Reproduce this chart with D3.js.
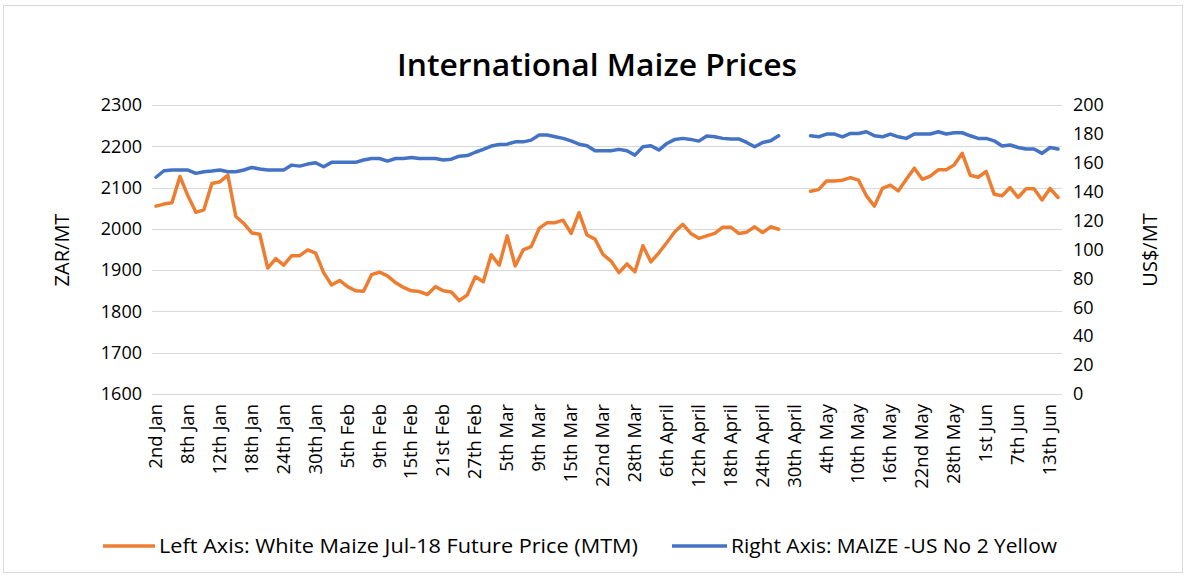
<!DOCTYPE html>
<html lang="en">
<head>
    <meta charset="UTF-8">
    <title>International Maize Prices</title>
    <script src="https://d3js.org/d3.v7.min.js"></script>
    <style>
        body {
            margin: 0;
            background: white;
            font-family: "Open Sans", "Noto Sans", Arial, sans-serif;
        }
        svg text { fill: #000; }
    </style>
</head>
<body>
    <svg id="chart" width="1187" height="578"></svg>

    <script>
    // trading days, 2 Jan - 14 Jun 2018
    const categories = [
        "2 Jan","3 Jan","4 Jan","5 Jan","8 Jan","9 Jan","10 Jan","11 Jan","12 Jan","15 Jan",
        "16 Jan","17 Jan","18 Jan","19 Jan","22 Jan","23 Jan","24 Jan","25 Jan","26 Jan","29 Jan",
        "30 Jan","31 Jan","1 Feb","2 Feb","5 Feb","6 Feb","7 Feb","8 Feb","9 Feb","12 Feb",
        "13 Feb","14 Feb","15 Feb","16 Feb","19 Feb","20 Feb","21 Feb","22 Feb","23 Feb","26 Feb",
        "27 Feb","28 Feb","1 Mar","2 Mar","5 Mar","6 Mar","7 Mar","8 Mar","9 Mar","12 Mar",
        "13 Mar","14 Mar","15 Mar","16 Mar","19 Mar","20 Mar","22 Mar","23 Mar","26 Mar","27 Mar",
        "28 Mar","3 Apr","4 Apr","5 Apr","6 Apr","9 Apr","10 Apr","11 Apr","12 Apr","13 Apr",
        "16 Apr","17 Apr","18 Apr","19 Apr","20 Apr","23 Apr","24 Apr","25 Apr","26 Apr","27 Apr",
        "30 Apr","1 May","2 May","3 May","4 May","7 May","8 May","9 May","10 May","11 May",
        "14 May","15 May","16 May","17 May","18 May","21 May","22 May","23 May","24 May","25 May",
        "28 May","29 May","30 May","31 May","1 Jun","4 Jun","5 Jun","6 Jun","7 Jun","8 Jun",
        "11 Jun","12 Jun","13 Jun","14 Jun"
    ];

    // every 4th category carries a label
    const tickLabels = [
        "2nd Jan","8th Jan","12th Jan","18th Jan","24th  Jan","30th  Jan","5th Feb","9th Feb",
        "15th Feb","21st Feb","27th Feb","5th Mar","9th Mar","15th Mar","22nd Mar","28th Mar",
        "6th April","12th April","18th April","24th April","30th April","4th May","10th May",
        "16th May","22nd May","28th May","1st Jun","7th Jun","13th Jun"
    ];

    // White Maize Jul-18 future price, ZAR/MT (left axis)
    const whiteMaize = [
        2055, 2060, 2063, 2127, 2080, 2040, 2046, 2110, 2114, 2130,
        2030, 2013, 1990, 1987, 1905, 1928, 1912, 1935, 1935, 1949,
        1941, 1894, 1864, 1875, 1860, 1850, 1849, 1889, 1895, 1886,
        1870, 1858, 1850, 1848, 1841, 1860, 1850, 1847, 1826, 1840,
        1884, 1872, 1937, 1912, 1983, 1910, 1949, 1957, 2001, 2015,
        2015, 2021, 1989, 2039, 1985, 1975, 1938, 1922, 1894, 1915,
        1896, 1959, 1920, 1942, 1967, 1993, 2011, 1989, 1977, 1983,
        1989, 2004, 2004, 1989, 1992, 2005, 1991, 2005, 1999, null,
        null, null, 2091, 2095, 2116, 2116, 2118, 2124, 2118, 2080,
        2055, 2098, 2106, 2092, 2120, 2147, 2120, 2128, 2143, 2143,
        2155, 2183, 2130, 2125, 2139, 2084, 2080, 2100, 2076, 2097,
        2097, 2070, 2098, 2076
    ];

    // MAIZE - US No 2 Yellow, US$/MT (right axis)
    const usYellow = [
        150, 154.5, 155, 155, 155, 152.7, 153.8, 154.3, 155, 153.8,
        153.8, 155, 156.8, 155.7, 155, 155, 155, 158.4, 157.7, 159.1,
        160, 157.3, 160.3, 160.3, 160.3, 160.3, 161.9, 163, 163, 161.2,
        163, 163, 163.7, 163, 163, 163, 161.9, 162.5, 164.6, 165,
        167.3, 169.3, 171.6, 172.7, 172.9, 174.5, 174.5, 175.7, 179.2, 179.2,
        178, 176.9, 175.2, 172.9, 171.8, 168.3, 168.3, 168.3, 169.3, 168.3,
        165.3, 171.1, 171.8, 168.8, 173.4, 176.2, 176.9, 176.2, 175, 178.5,
        178, 176.9, 176.5, 176.5, 174.1, 171.1, 174.1, 175.2, 178.7, null,
        null, null, 178.7, 178, 179.9, 179.9, 178, 180.3, 180.3, 181.5,
        178.7, 178, 179.9, 178, 176.9, 179.9, 179.9, 179.9, 181.5, 179.9,
        180.8, 180.8, 178.7, 176.9, 176.9, 175.2, 171.6, 172.3, 170.6, 169.5,
        169.5, 166.5, 170.6, 169.5
    ];

    const leftTicks = [1600, 1700, 1800, 1900, 2000, 2100, 2200, 2300];
    const rightTicks = [0, 20, 40, 60, 80, 100, 120, 140, 160, 180, 200];

    const seriesNames = [
        "Left Axis: White Maize Jul-18 Future Price (MTM)",
        "Right Axis: MAIZE -US No 2 Yellow"
    ];
    const colors = ["#ED7D31", "#4472C4"];

    const svg = d3.select("#chart");
    const plot = { left: 152, right: 1062, top: 105, bottom: 394 };

    // chart frame
    svg.append("rect")
        .attr("x", 3.5).attr("y", 5.5)
        .attr("width", 1179).attr("height", 567)
        .attr("fill", "white")
        .attr("stroke", "#D9D9D9");

    const x = d3.scalePoint().domain(categories)
        .range([plot.left, plot.right]).padding(0.5);
    const yLeft = d3.scaleLinear().domain([1600, 2300]).range([plot.bottom, plot.top]);
    const yRight = d3.scaleLinear().domain([0, 200]).range([plot.bottom, plot.top]);

    // gridlines
    svg.append("g")
        .selectAll("line")
        .data(leftTicks)
        .enter().append("line")
        .attr("x1", plot.left).attr("x2", plot.right)
        .attr("y1", d => Math.round(yLeft(d)) + 0.5)
        .attr("y2", d => Math.round(yLeft(d)) + 0.5)
        .attr("stroke", "#D9D9D9")
        .attr("stroke-width", 1);

    // left axis
    const leftAxis = svg.append("g")
        .attr("transform", `translate(${plot.left - 10}, 0)`)
        .call(d3.axisLeft(yLeft).tickValues(leftTicks).tickFormat(d3.format("d"))
            .tickSize(0).tickPadding(0));
    leftAxis.select(".domain").remove();
    leftAxis.selectAll("text")
        .style("font-family", "Open Sans")
        .style("font-size", "18px");

    // right axis
    const rightAxis = svg.append("g")
        .attr("transform", `translate(${plot.right + 11}, 0)`)
        .call(d3.axisRight(yRight).tickValues(rightTicks).tickFormat(d3.format("d"))
            .tickSize(0).tickPadding(0));
    rightAxis.select(".domain").remove();
    rightAxis.selectAll("text")
        .style("font-family", "Open Sans")
        .style("font-size", "18px");

    // category labels, every 4th day
    const labelled = categories.filter((d, i) => i % 4 === 0);
    svg.append("g")
        .selectAll("text")
        .data(labelled)
        .enter().append("text")
        .attr("transform", d => `translate(${x(d) + 6}, ${plot.bottom + 10}) rotate(-90)`)
        .attr("text-anchor", "end")
        .style("font-size", "18.5px")
        .text((d, i) => tickLabels[i]);

    // lines
    const lineLeft = d3.line()
        .defined(d => d != null)
        .x((d, i) => x(categories[i]))
        .y(d => yLeft(d));
    const lineRight = d3.line()
        .defined(d => d != null)
        .x((d, i) => x(categories[i]))
        .y(d => yRight(d));

    svg.append("path")
        .datum(whiteMaize)
        .attr("fill", "none")
        .attr("stroke", colors[0])
        .attr("stroke-width", 3.5)
        .attr("stroke-linejoin", "round")
        .attr("stroke-linecap", "round")
        .attr("d", lineLeft);

    svg.append("path")
        .datum(usYellow)
        .attr("fill", "none")
        .attr("stroke", colors[1])
        .attr("stroke-width", 3.5)
        .attr("stroke-linejoin", "round")
        .attr("stroke-linecap", "round")
        .attr("d", lineRight);

    // title
    svg.append("text")
        .attr("x", 597).attr("y", 76)
        .attr("text-anchor", "middle")
        .style("font-size", "31px")
        .style("font-weight", "600")
        .attr("textLength", 400)
        .attr("lengthAdjust", "spacingAndGlyphs")
        .text("International Maize Prices");

    // axis titles
    svg.append("text")
        .attr("transform", "translate(69, 250) rotate(-90)")
        .attr("text-anchor", "middle")
        .style("font-size", "20px")
        .text("ZAR/MT");
    svg.append("text")
        .attr("transform", "translate(1157, 250) rotate(-90)")
        .attr("text-anchor", "middle")
        .style("font-size", "20px")
        .text("US$/MT");

    // legend
    const legendX = [103, 672];
    const legendLen = [52, 55];
    const legendTextLen = [479, 326];
    const legend = svg.append("g");
    legend.selectAll("line")
        .data(seriesNames)
        .enter().append("line")
        .attr("x1", (d, i) => legendX[i])
        .attr("x2", (d, i) => legendX[i] + legendLen[i])
        .attr("y1", 546).attr("y2", 546)
        .attr("stroke", (d, i) => colors[i])
        .attr("stroke-width", 3.5);
    legend.selectAll("text")
        .data(seriesNames)
        .enter().append("text")
        .attr("x", (d, i) => legendX[i] + legendLen[i] + 4)
        .attr("y", 553)
        .attr("textLength", (d, i) => legendTextLen[i])
        .attr("lengthAdjust", "spacingAndGlyphs")
        .style("font-size", "20px")
        .text(d => d);
    </script>
</body>
</html>
